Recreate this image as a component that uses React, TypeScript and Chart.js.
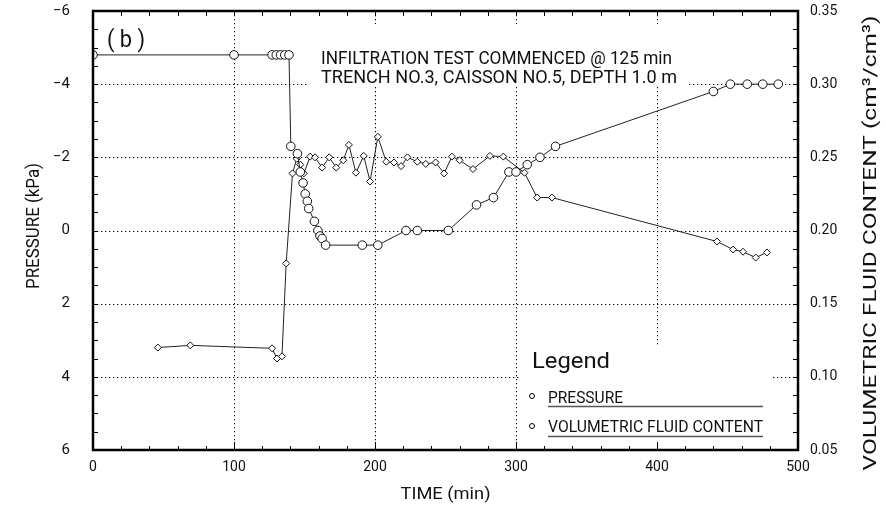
import React, { useEffect, useRef } from 'react';
import { Chart, registerables } from 'chart.js';

Chart.register(...registerables);

// ---- data ----
const pressureTime = [0, 100, 127, 130, 133, 136, 139, 140.3, 145, 147, 149, 150.5, 152, 153, 157, 159.5, 161, 162.5, 165, 191, 202, 222, 230, 252, 272, 284, 295, 300, 308, 317, 328, 440, 452, 464, 475, 486];
const pressureKPa = [-4.8, -4.8, -4.8, -4.8, -4.8, -4.8, -4.8, -2.3, -2.1, -1.6, -1.3, -1.0, -0.8, -0.6, -0.25, 0, 0.15, 0.22, 0.4, 0.4, 0.4, 0, 0, 0, -0.7, -0.9, -1.6, -1.6, -1.8, -2.0, -2.3, -3.8, -4.0, -4.0, -4.0, -4.0];

const vfcTime = [46, 69, 127, 130.5, 134, 137, 141.5, 144.5, 147, 149.5, 154, 157.5, 162.5, 167.5, 172.5, 177.5, 181.5, 186.5, 192, 196.5, 202, 208, 213.5, 218.5, 223, 230, 236, 243, 249, 254.5, 260, 269.5, 281.5, 291, 306, 315, 325.5, 442.5, 454, 461, 470, 478];
const vfcValue = [0.120, 0.1215, 0.1195, 0.1125, 0.114, 0.1775, 0.239, 0.249, 0.245, 0.239, 0.2505, 0.25, 0.243, 0.25, 0.243, 0.248, 0.2585, 0.2395, 0.251, 0.2335, 0.264, 0.247, 0.2465, 0.244, 0.25, 0.247, 0.2455, 0.2465, 0.239, 0.2505, 0.248, 0.242, 0.251, 0.2505, 0.2395, 0.2225, 0.2225, 0.1925, 0.187, 0.1855, 0.1815, 0.185];

const timeGrid = [100, 200, 300, 400];
const pressureGrid = [-4, -2, 0, 2, 4];

const panelLabel = '( b )';
const noteLines = ['INFILTRATION TEST COMMENCED @ 125 min', 'TRENCH NO.3, CAISSON NO.5, DEPTH 1.0 m'];
const legendTitle = 'Legend';
const seriesNames = ['PRESSURE', 'VOLUMETRIC FLUID CONTENT'];
const xTitle = 'TIME (min)';
const yTitle = 'PRESSURE (kPa)';
const y2Title = 'VOLUMETRIC FLUID CONTENT (cm\u00B3/cm\u00B3)';

const FONT = 'Roboto, "DejaVu Sans", sans-serif';
const INK = '#111';

function fitText(ctx: CanvasRenderingContext2D, text: string, x: number, y: number, size: number, width: number, align: 'left' | 'center' = 'left', rot = 0) {
  ctx.save();
  ctx.translate(x, y);
  if (rot) ctx.rotate(rot);
  ctx.font = `${size}px ${FONT}`;
  ctx.textAlign = 'left';
  ctx.textBaseline = 'alphabetic';
  const w = ctx.measureText(text).width;
  const sx = width / w;
  ctx.scale(sx, 1);
  ctx.fillStyle = INK;
  ctx.fillText(text, align === 'center' ? -w / 2 : 0, 0);
  ctx.restore();
}

const paperPlugin = {
  id: 'paper',
  beforeDatasetsDraw(chart: any) {
    const { ctx, chartArea: a, scales } = chart;
    const xs = scales.x, ys = scales.y;
    ctx.save();
    ctx.strokeStyle = '#000';
    ctx.lineWidth = 1;
    ctx.setLineDash([1.3, 2.7]);
    ctx.beginPath();
    for (const t of timeGrid) {
      const px = Math.round(xs.getPixelForValue(t)) + 0.5;
      ctx.moveTo(px, a.top);
      ctx.lineTo(px, a.bottom);
    }
    for (const p of pressureGrid) {
      const py = Math.round(ys.getPixelForValue(p)) + 0.5;
      ctx.moveTo(a.left, py);
      ctx.lineTo(a.right, py);
    }
    ctx.stroke();
    ctx.setLineDash([]);
    // blank areas behind annotation and legend
    ctx.fillStyle = '#fff';
    ctx.fillRect(a.left + 214, a.top + 13, 381, 62);
    ctx.fillRect(a.left + 426, a.top + 334, 254, a.bottom - a.top - 336);
    ctx.restore();
  },
  afterDraw(chart: any) {
    const { ctx, chartArea: a, scales } = chart;
    const xs = scales.x, ys = scales.y;
    ctx.save();
    // frame
    ctx.strokeStyle = '#000';
    ctx.lineWidth = 2.5;
    ctx.strokeRect(a.left, a.top, a.right - a.left, a.bottom - a.top);
    // minor ticks
    ctx.lineWidth = 1;
    ctx.beginPath();
    for (let t = 0; t <= 500; t += 20) {
      const px = Math.round(xs.getPixelForValue(t)) + 0.5;
      const l = t % 100 === 0 ? 8 : 4;
      ctx.moveTo(px, a.bottom);
      ctx.lineTo(px, a.bottom - l);
      ctx.moveTo(px, a.top);
      ctx.lineTo(px, a.top + 5);
    }
    for (let p = -6; p <= 6; p += 0.5) {
      const py = Math.round(ys.getPixelForValue(p)) + 0.5;
      ctx.moveTo(a.left, py);
      ctx.lineTo(a.left + 5, py);
      ctx.moveTo(a.right, py);
      ctx.lineTo(a.right - 5, py);
    }
    ctx.stroke();

    // texts
    fitText(ctx, panelLabel, a.left + 14, a.top + 36, 24, 38);
    fitText(ctx, noteLines[0], a.left + 228, a.top + 53, 19, 351);
    fitText(ctx, noteLines[1], a.left + 228, a.top + 72, 19, 356);

    // legend
    fitText(ctx, legendTitle, a.left + 439, a.top + 357, 22, 78);
    fitText(ctx, seriesNames[0], a.left + 455, a.top + 392, 16, 75);
    fitText(ctx, seriesNames[1], a.left + 455, a.top + 421, 16, 215);
    ctx.strokeStyle = '#555';
    ctx.lineWidth = 1.3;
    ctx.beginPath();
    ctx.moveTo(a.left + 455, a.top + 395.5);
    ctx.lineTo(a.left + 670, a.top + 395.5);
    ctx.moveTo(a.left + 455, a.top + 425.5);
    ctx.lineTo(a.left + 670, a.top + 425.5);
    ctx.stroke();
    ctx.strokeStyle = '#000';
    ctx.lineWidth = 1;
    ctx.beginPath();
    ctx.arc(a.left + 439, a.top + 385, 2.5, 0, Math.PI * 2);
    ctx.stroke();
    ctx.beginPath();
    ctx.arc(a.left + 439, a.top + 415, 2.5, 0, Math.PI * 2);
    ctx.stroke();

    // axis titles
    fitText(ctx, xTitle, (a.left + a.right) / 2, 499, 17, 90, 'center');
    fitText(ctx, yTitle, 39, 226, 18, 126, 'center', -Math.PI / 2);
    fitText(ctx, y2Title, 876, 243, 19, 455, 'center', -Math.PI / 2);
    ctx.restore();
  },
};

function zeroPad(s: any) {
  s.paddingTop = 0;
  s.paddingBottom = 0;
  s.paddingLeft = 0;
  s.paddingRight = 0;
}

export default function App() {
  const ref = useRef<HTMLCanvasElement | null>(null);

  useEffect(() => {
    if (!ref.current) return;
    const pressureData = pressureTime.map((t, i) => ({ x: t, y: pressureKPa[i] }));
    const vfcData = vfcTime.map((t, i) => ({ x: t, y: vfcValue[i] }));
    const tickFont = { family: FONT, size: 14 };
    const noGrid = { display: false, drawTicks: false, tickLength: 0 };
    const chart = new Chart(ref.current, {
      type: 'line',
      data: {
        datasets: [
          {
            label: seriesNames[0],
            data: pressureData,
            yAxisID: 'y',
            borderColor: '#222',
            borderWidth: 1,
            backgroundColor: '#fff',
            pointStyle: 'circle',
            pointRadius: 4.3,
            pointBorderWidth: 1,
            pointBorderColor: '#111',
            pointBackgroundColor: '#fff',
            tension: 0,
          },
          {
            label: seriesNames[1],
            data: vfcData,
            yAxisID: 'y2',
            borderColor: '#222',
            borderWidth: 1,
            backgroundColor: '#fff',
            pointStyle: 'rectRot',
            pointRadius: 3.5,
            pointBorderWidth: 1,
            pointBorderColor: '#111',
            pointBackgroundColor: '#fff',
            tension: 0,
          },
        ],
      },
      options: {
        responsive: false,
        animation: false,
        devicePixelRatio: 1,
        layout: { padding: { top: 11, left: 0, right: 0, bottom: 0 } },
        plugins: { legend: { display: false }, tooltip: { enabled: false } },
        scales: {
          x: {
            type: 'linear',
            min: 0,
            max: 500,
            grid: noGrid,
            border: { display: false },
            ticks: { stepSize: 100, font: tickFont, color: INK, padding: 9, maxRotation: 0 },
            afterFit: (s: any) => { s.height = 62; zeroPad(s); },
          },
          y: {
            type: 'linear',
            position: 'left',
            min: -6,
            max: 6,
            reverse: true,
            grid: noGrid,
            border: { display: false },
            ticks: {
              stepSize: 2,
              font: { family: FONT, size: 15 },
              color: INK,
              padding: 23,
              callback: (v: any) => (Number(v) < 0 ? '\u2212' + Math.abs(Number(v)) : String(v)),
            },
            afterFit: (s: any) => { s.width = 93; zeroPad(s); },
          },
          y2: {
            type: 'linear',
            position: 'right',
            min: 0.05,
            max: 0.35,
            grid: noGrid,
            border: { display: false },
            ticks: {
              stepSize: 0.05,
              font: { family: FONT, size: 14 },
              color: INK,
              padding: 12,
              callback: (v: any) => Number(v).toFixed(2),
            },
            afterFit: (s: any) => { s.width = 88; zeroPad(s); },
          },
        },
      },
      plugins: [paperPlugin],
    } as any);
    return () => chart.destroy();
  }, []);

  return (
    <div style={{ position: 'absolute', left: 0, top: 0, width: 886, height: 512, background: '#fff' }}>
      <canvas ref={ref} width={886} height={512} style={{ display: 'block', width: 886, height: 512 }} />
    </div>
  );
}
